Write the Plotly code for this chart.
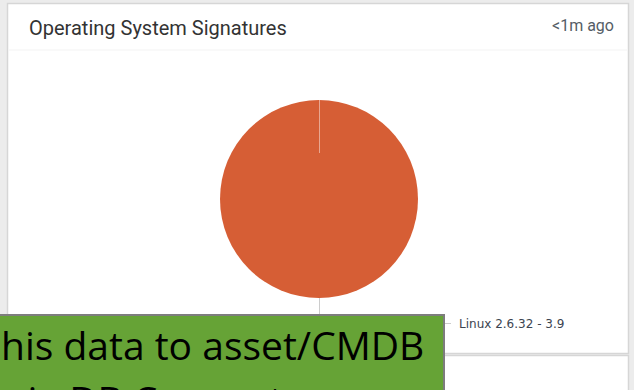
import plotly.graph_objects as go

labels = ["Linux 2.6.32 - 3.9"]
values = [100]
colors = ["#d65e35"]
title_text = "Operating System Signatures"
age_text = "<1m ago"
overlay_lines = ["his data to asset/CMDB", "via DB Connect"]

W, H = 634, 390
def px(x): return x / W
def py(y): return 1 - y / H

fig = go.Figure()
fig.add_trace(go.Pie(
    labels=labels, values=values, marker=dict(colors=colors, line=dict(width=0)),
    textinfo="none", sort=False, direction="clockwise", rotation=0,
    domain=dict(x=[px(220), px(418)], y=[py(298), py(100)]),
    showlegend=False, hoverinfo="label+value",
))

shapes = [
    dict(type="rect", xref="paper", yref="paper", x0=0, x1=1, y0=0, y1=1,
         fillcolor="#ececec", line=dict(width=0), layer="below"),
    dict(type="rect", xref="paper", yref="paper", x0=px(7.5), x1=px(628.5), y0=py(353.5), y1=py(3.5),
         fillcolor="white", line=dict(color="#d6d6d6", width=1.5), layer="below"),
    dict(type="rect", xref="paper", yref="paper", x0=px(7.5), x1=px(628.5), y0=py(395), y1=py(355.5),
         fillcolor="white", line=dict(color="#d6d6d6", width=1.5), layer="below"),
    dict(type="line", xref="paper", yref="paper", x0=px(9), x1=px(627), y0=py(50), y1=py(50),
         line=dict(color="#f3f3f3", width=1), layer="below"),
    dict(type="line", xref="paper", yref="paper", x0=px(319.5), x1=px(319.5), y0=py(100), y1=py(153),
         line=dict(color="rgba(255,255,255,0.45)", width=1)),
    dict(type="line", xref="paper", yref="paper", x0=px(319.5), x1=px(319.5), y0=py(298), y1=py(323.5),
         line=dict(color="#cccccc", width=1)),
    dict(type="line", xref="paper", yref="paper", x0=px(319.5), x1=px(451), y0=py(323.5), y1=py(323.5),
         line=dict(color="#cccccc", width=1)),
    dict(type="rect", xref="paper", yref="paper", x0=px(-5), x1=px(444), y0=py(400), y1=py(315),
         fillcolor="#66a336", line=dict(color="#7d7d7d", width=2), layer="above"),
]

annotations = [
    dict(text=title_text, xref="paper", yref="paper", x=px(27), y=py(28), xanchor="left", yanchor="middle",
         showarrow=False, font=dict(family="Roboto", size=20, color="#333333")),
    dict(text=age_text, xref="paper", yref="paper", x=px(616), y=py(26), xanchor="right", yanchor="middle",
         showarrow=False, font=dict(family="Roboto", size=16, color="#555d66")),
    dict(text=labels[0], xref="paper", yref="paper", x=px(457), y=py(323.5), xanchor="left", yanchor="middle",
         showarrow=False, font=dict(family="DejaVu Sans", size=12, color="#3c4450")),
    dict(text=overlay_lines[0], xref="paper", yref="paper", x=px(-1), y=py(344), xanchor="left", yanchor="middle",
         showarrow=False, font=dict(family="Open Sans", size=39, color="#000000")),
    dict(text=overlay_lines[1], xref="paper", yref="paper", x=px(6), y=py(400), xanchor="left", yanchor="middle",
         showarrow=False, font=dict(family="Open Sans", size=39, color="#000000")),
]

fig.update_layout(
    width=W, height=H, margin=dict(l=0, r=0, t=0, b=0),
    paper_bgcolor="#ececec", plot_bgcolor="white",
    shapes=shapes, annotations=annotations,
)
fig.write_html("out.html")
